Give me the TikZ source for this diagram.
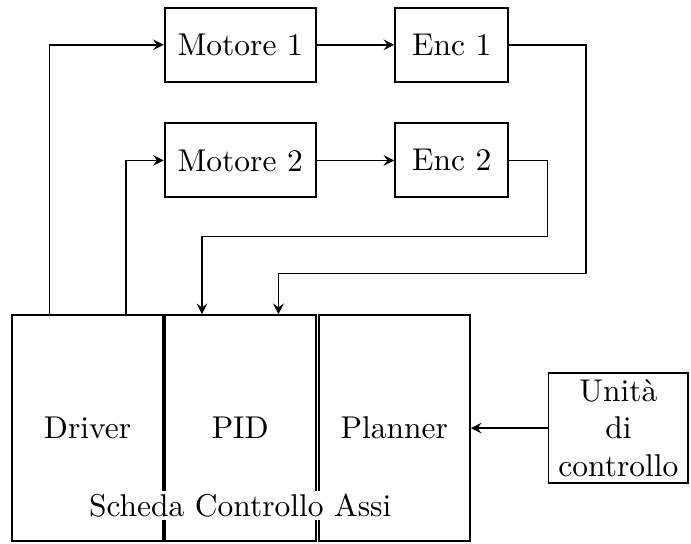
\documentclass[tikz,border=0pt]{standalone}
\usetikzlibrary{calc}

\begin{document}
\begin{tikzpicture}[>=stealth,
    blocco/.style={draw,semithick,minimum width=1.685cm,minimum height=0.826cm},
    scheda/.style={draw,semithick,minimum width=1.685cm,minimum height=2.52cm},
    filo/.style={->,line width=0.5pt}]
\useasboundingbox (0,0) rectangle (7.71,6.06);
% motori ed encoder
\node[blocco] (mot1) at (2.68,5.56) {Motore 1};
\node[blocco,minimum width=1.26cm] (enc1) at (5.04,5.56) {Enc 1};
\node[blocco] (mot2) at (2.68,4.27) {Motore 2};
\node[blocco,minimum width=1.26cm] (enc2) at (5.04,4.27) {Enc 2};
% scheda controllo assi
\node[scheda] (driver) at (0.977,1.283) {Driver};
\node[scheda] (pid) at (2.68,1.283) {PID};
\node[scheda] (planner) at (4.40,1.283) {Planner};
\node[fill=white,inner sep=1pt] (assi) at (2.68,0.42) {Scheda Controllo Assi};
\node[draw,semithick,align=center,minimum width=1.56cm,minimum height=1.23cm,inner sep=1pt]
    (unita) at (6.90,1.283) {Unità\\di\\controllo};
% punti di attacco
\coordinate (drv1) at ($(driver.north west)!0.25!(driver.north east)$);
\coordinate (drv2) at ($(driver.north west)!0.75!(driver.north east)$);
\coordinate (pid1) at ($(pid.north west)!0.25!(pid.north east)$);
\coordinate (pid2) at ($(pid.north west)!0.75!(pid.north east)$);
% collegamenti
\draw[filo] (drv1) |- (mot1.west);
\draw[filo] (drv2) |- (mot2.west);
\draw[filo] (mot1) -- (enc1);
\draw[filo] (mot2) -- (enc2);
\draw[filo] (enc1.east) -- ++(0.86,0) -- ++(0,-2.55) -| (pid2);
\draw[filo] (enc2.east) -- ++(0.43,0) -- ++(0,-0.85) -| (pid1);
\draw[filo] (unita) -- (planner);
\end{tikzpicture}
\end{document}
